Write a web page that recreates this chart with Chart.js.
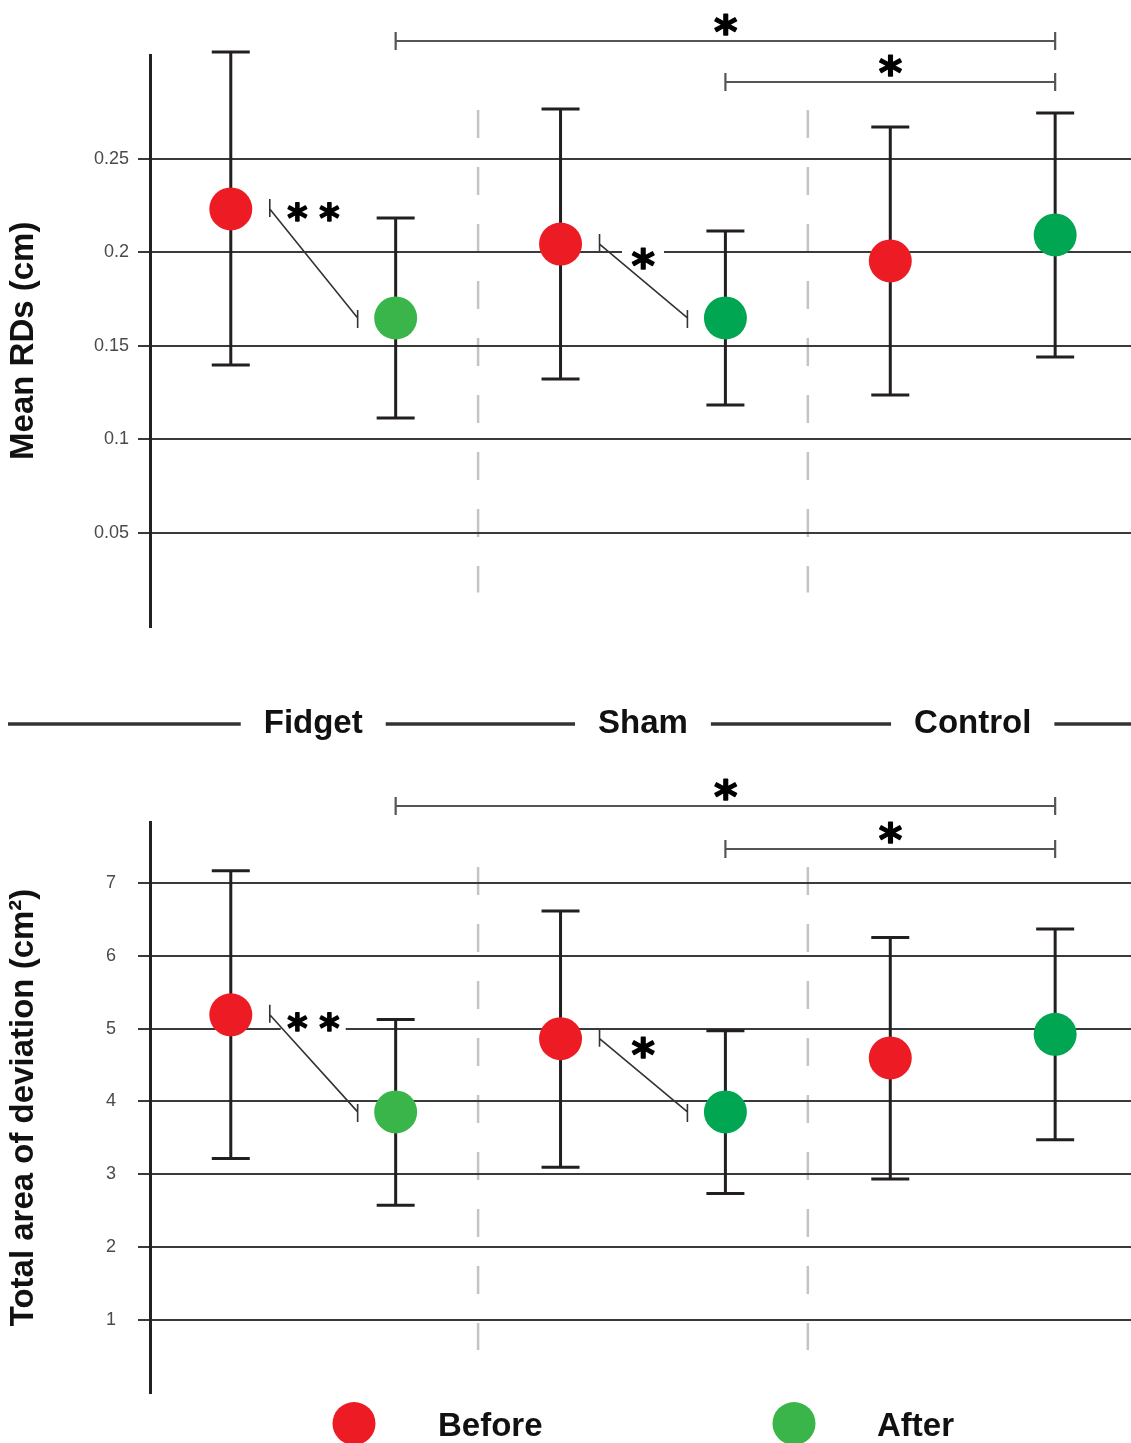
<!DOCTYPE html>
<html>
<head>
<meta charset="utf-8">
<script src="https://cdn.jsdelivr.net/npm/chart.js@4.4.1/dist/chart.umd.min.js"></script>
<style>
  html, body { margin: 0; padding: 0; background: #ffffff; }
  body { width: 1131px; height: 1443px; position: relative; overflow: hidden; }
  .wrap { position: absolute; left: 0; }
  canvas { display: block; }
</style>
</head>
<body>
<div class="wrap" style="top:0px;width:1131px;height:760px"><canvas id="topChart" width="1131" height="760"></canvas></div>
<div class="wrap" style="top:760px;width:1131px;height:683px"><canvas id="botChart" width="1131" height="683"></canvas></div>
<script>
// ---------------- DATA ----------------
const groups = ['Fidget', 'Sham', 'Control'];
const phases = ['Before', 'After'];

// Panel 1: Mean RDs (cm)
const rdBefore     = [0.2233, 0.2045, 0.1955];
const rdBeforeLow  = [0.1398, 0.1324, 0.1238];
const rdBeforeHigh = [0.3072, 0.2767, 0.2671];
const rdAfter      = [0.1650, 0.1650, 0.2094];
const rdAfterLow   = [0.1115, 0.1184, 0.1441];
const rdAfterHigh  = [0.2184, 0.2115, 0.2746];
const rdTickValues = [0.05, 0.1, 0.15, 0.2, 0.25];
const rdTickLabels = ['0.05', '0.1', '0.15', '0.2', '0.25'];

// Panel 2: Total area of deviation (cm²)
const areaBefore     = [5.19, 4.862, 4.598];
const areaBeforeLow  = [3.217, 3.098, 2.936];
const areaBeforeHigh = [7.165, 6.615, 6.249];
const areaAfter      = [3.857, 3.857, 4.921];
const areaAfterLow   = [2.577, 2.738, 3.474];
const areaAfterHigh  = [5.124, 4.969, 6.368];
const areaTickValues = [1, 2, 3, 4, 5, 6, 7];
const areaTickLabels = ['1', '2', '3', '4', '5', '6', '7'];

// Significance marks
const sigWithin  = [['Fidget', '**'], ['Sham', '*']];               // Before vs After within group
const sigBetween = [['Fidget', 'Control', '*'], ['Sham', 'Control', '*']]; // After vs After between groups

// ---------------- STYLE ----------------
const FONT = '"Liberation Sans", Arial, Helvetica, sans-serif';
const STAR_FONT = '"DejaVu Sans", "Liberation Sans", sans-serif';
const RED = '#ED1C24';
const GREEN_LIGHT = '#3AB54A';
const GREEN_DARK = '#00A651';
const afterColors = [GREEN_LIGHT, GREEN_DARK, GREEN_DARK];
const INK = '#231F20';

function measureStar(ctx, targetW) {
  ctx.font = 'bold 100px ' + STAR_FONT;
  const m = ctx.measureText('*');
  const w = m.actualBoundingBoxLeft + m.actualBoundingBoxRight;
  return 100 * targetW / w;
}
function drawStar(ctx, cx, cy, targetW) {
  const fs = measureStar(ctx, targetW);
  ctx.font = 'bold ' + fs + 'px ' + STAR_FONT;
  ctx.textAlign = 'left';
  ctx.textBaseline = 'alphabetic';
  const m = ctx.measureText('*');
  const X = cx - (m.actualBoundingBoxRight - m.actualBoundingBoxLeft) / 2;
  const Y = cy - (m.actualBoundingBoxDescent - m.actualBoundingBoxAscent) / 2;
  ctx.fillStyle = '#000';
  ctx.strokeStyle = '#000';
  ctx.lineWidth = 1.4;
  ctx.lineJoin = 'round';
  ctx.fillText('*', X, Y);
  ctx.strokeText('*', X, Y);
}
function drawStars(ctx, label, cx, cy, size, gap) {
  const n = label.length;
  for (let k = 0; k < n; k++) {
    drawStar(ctx, cx + (k - (n - 1) / 2) * gap, cy, size);
  }
}

function makeChart(id, cfg) {
  const canvas = document.getElementById(id);
  const pos = (g, p) => groups.indexOf(g) * 2 + p;

  const overlay = {
    id: 'overlay_' + id,
    beforeDraw(chart) {
      // dashed group separators
      const { ctx, chartArea, scales: { x } } = chart;
      ctx.save();
      ctx.strokeStyle = '#c4c4c4';
      ctx.lineWidth = 2.5;
      ctx.setLineDash([28, 29]);
      for (let i = 0; i < groups.length - 1; i++) {
        const px = x.getPixelForValue(i * 2 + 1.5);
        ctx.beginPath();
        ctx.moveTo(px, chartArea.top + cfg.sepTop);
        ctx.lineTo(px, chartArea.bottom - cfg.sepBottom);
        ctx.stroke();
      }
      ctx.restore();
    },
    beforeDatasetsDraw(chart) {
      // error bars
      const { ctx, scales: { x, y } } = chart;
      ctx.save();
      ctx.strokeStyle = INK;
      ctx.lineWidth = 3;
      groups.forEach((g, i) => {
        [[cfg.beforeLow, cfg.beforeHigh, 0], [cfg.afterLow, cfg.afterHigh, 1]].forEach(([lo, hi, p]) => {
          const px = x.getPixelForValue(i * 2 + p);
          const yl = y.getPixelForValue(lo[i]);
          const yh = y.getPixelForValue(hi[i]);
          ctx.beginPath();
          ctx.moveTo(px, yh); ctx.lineTo(px, yl);
          ctx.moveTo(px - 19, yh); ctx.lineTo(px + 19, yh);
          ctx.moveTo(px - 19, yl); ctx.lineTo(px + 19, yl);
          ctx.stroke();
        });
      });
      ctx.restore();
    },
    afterDatasetsDraw(chart) {
      const { ctx, chartArea, scales: { x, y } } = chart;
      ctx.save();
      // between-group brackets
      sigBetween.forEach(([a, b, label], k) => {
        const x1 = x.getPixelForValue(pos(a, 1));
        const x2 = x.getPixelForValue(pos(b, 1));
        const yy = chartArea.top + cfg.bracketLevels[k];
        ctx.strokeStyle = '#555';
        ctx.lineWidth = 2.2;
        ctx.setLineDash([]);
        ctx.beginPath();
        ctx.moveTo(x1, yy); ctx.lineTo(x2, yy);
        ctx.moveTo(x1, yy - 9); ctx.lineTo(x1, yy + 9);
        ctx.moveTo(x2, yy - 9); ctx.lineTo(x2, yy + 9);
        ctx.stroke();
        drawStars(ctx, label, (x1 + x2) / 2, yy - 17, 22, 32);
      });
      // within-group comparisons
      sigWithin.forEach(([g, label], k) => {
        const i = groups.indexOf(g);
        const xb = x.getPixelForValue(i * 2);
        const xa = x.getPixelForValue(i * 2 + 1);
        const yb = y.getPixelForValue(cfg.before[i]);
        const ya = y.getPixelForValue(cfg.after[i]);
        const sx = xb + 39, ex = xa - 38;
        const cx = (xb + xa) / 2, cy = yb + cfg.starDy[k];
        const size = label.length > 1 ? 19 : 22;
        const gap = 32;
        const halfW = label.length > 1 ? gap / 2 + size / 2 + 7 : size / 2 + 10;
        ctx.fillStyle = '#ffffff';
        ctx.fillRect(cx - halfW, cy - size / 2 - 4, halfW * 2, size + 8);
        ctx.strokeStyle = '#333';
        ctx.lineWidth = 1.6;
        ctx.beginPath();
        ctx.moveTo(sx, yb); ctx.lineTo(ex, ya);
        ctx.moveTo(sx, yb - 10); ctx.lineTo(sx, yb + 8);
        ctx.moveTo(ex, ya - 8); ctx.lineTo(ex, ya + 10);
        ctx.stroke();
        drawStars(ctx, label, cx, cy, size, gap);
      });
      ctx.restore();
    },
    afterDraw(chart) {
      if (cfg.extra) cfg.extra(chart);
    }
  };

  return new Chart(canvas, {
    type: 'scatter',
    data: {
      datasets: [
        {
          label: phases[0],
          data: groups.map((g, i) => ({ x: i * 2, y: cfg.before[i] })),
          pointBackgroundColor: RED,
          pointBorderWidth: 0,
          pointRadius: 21.5,
          pointHoverRadius: 21.5
        },
        {
          label: phases[1],
          data: groups.map((g, i) => ({ x: i * 2 + 1, y: cfg.after[i] })),
          pointBackgroundColor: afterColors,
          pointBorderWidth: 0,
          pointRadius: 21.5,
          pointHoverRadius: 21.5
        }
      ]
    },
    options: {
      responsive: false,
      animation: false,
      events: [],
      clip: false,
      layout: { padding: cfg.padding, autoPadding: false },
      plugins: { legend: { display: false }, tooltip: { enabled: false } },
      scales: {
        x: { type: 'linear', min: -0.49, max: 5.46, display: false },
        y: {
          min: 0,
          max: cfg.yMax,
          afterFit: (s) => { s.width = 150; },
          afterBuildTicks: (s) => { s.ticks = cfg.tickValues.map(v => ({ value: v })); },
          ticks: {
            callback: (v, idx) => cfg.tickLabels[idx],
            font: { family: FONT, size: 18 },
            color: '#4a4a4a',
            padding: cfg.tickPad
          },
          grid: { color: '#3a3a3a', lineWidth: 2, tickLength: 12, drawTicks: true },
          border: { display: true, color: '#222', width: 3 },
          title: {
            display: true,
            text: cfg.title,
            font: { family: FONT, size: 33, weight: 'bold' },
            color: '#111',
            padding: { top: 4, bottom: 0 }
          }
        }
      }
    },
    plugins: [overlay]
  });
}

// Top panel
makeChart('topChart', {
  before: rdBefore, beforeLow: rdBeforeLow, beforeHigh: rdBeforeHigh,
  after: rdAfter, afterLow: rdAfterLow, afterHigh: rdAfterHigh,
  tickValues: rdTickValues, tickLabels: rdTickLabels,
  yMax: 0.3056, tickPad: 9,
  title: 'Mean RDs (cm)',
  padding: { top: 55, bottom: 133.5, left: 0, right: 0 },
  sepTop: 55, sepBottom: 34,
  bracketLevels: [-14, 27],
  starDy: [3, 14],
  extra(chart) {
    // group band: Fidget / Sham / Control
    const { ctx, scales: { x } } = chart;
    ctx.save();
    ctx.font = 'bold 33px ' + FONT;
    ctx.fillStyle = '#111';
    ctx.textAlign = 'center';
    ctx.textBaseline = 'alphabetic';
    ctx.strokeStyle = '#333';
    ctx.lineWidth = 3.5;
    const yLine = 724, yText = 733;
    let prev = 8;
    groups.forEach((g, i) => {
      const c = x.getPixelForValue(i * 2 + 0.5);
      const w = ctx.measureText(g).width;
      ctx.beginPath(); ctx.moveTo(prev, yLine); ctx.lineTo(c - w / 2 - 23, yLine); ctx.stroke();
      ctx.fillText(g, c, yText);
      prev = c + w / 2 + 23;
    });
    ctx.beginPath(); ctx.moveTo(prev, yLine); ctx.lineTo(1131, yLine); ctx.stroke();
    ctx.restore();
  }
});

// Bottom panel
makeChart('botChart', {
  before: areaBefore, beforeLow: areaBeforeLow, beforeHigh: areaBeforeHigh,
  after: areaAfter, afterLow: areaAfterLow, afterHigh: areaAfterHigh,
  tickValues: areaTickValues, tickLabels: areaTickLabels,
  yMax: 7.835, tickPad: 22,
  title: 'Total area of deviation (cm²)',
  padding: { top: 62, bottom: 50, left: 0, right: 0 },
  sepTop: 45, sepBottom: 43,
  bracketLevels: [-16, 27],
  starDy: [7, 9],
  extra(chart) {
    // legend
    const { ctx } = chart;
    ctx.save();
    const yC = 663.5;
    [[phases[0], RED, 354, 438], [phases[1], GREEN_LIGHT, 794, 877]].forEach(([t, col, cx, tx]) => {
      ctx.fillStyle = col;
      ctx.beginPath(); ctx.arc(cx, yC, 21.5, 0, Math.PI * 2); ctx.fill();
      ctx.fillStyle = '#111';
      ctx.font = 'bold 33px ' + FONT;
      ctx.textAlign = 'left';
      ctx.textBaseline = 'alphabetic';
      ctx.fillText(t, tx, 676);
    });
    ctx.restore();
  }
});
</script>
</body>
</html>
